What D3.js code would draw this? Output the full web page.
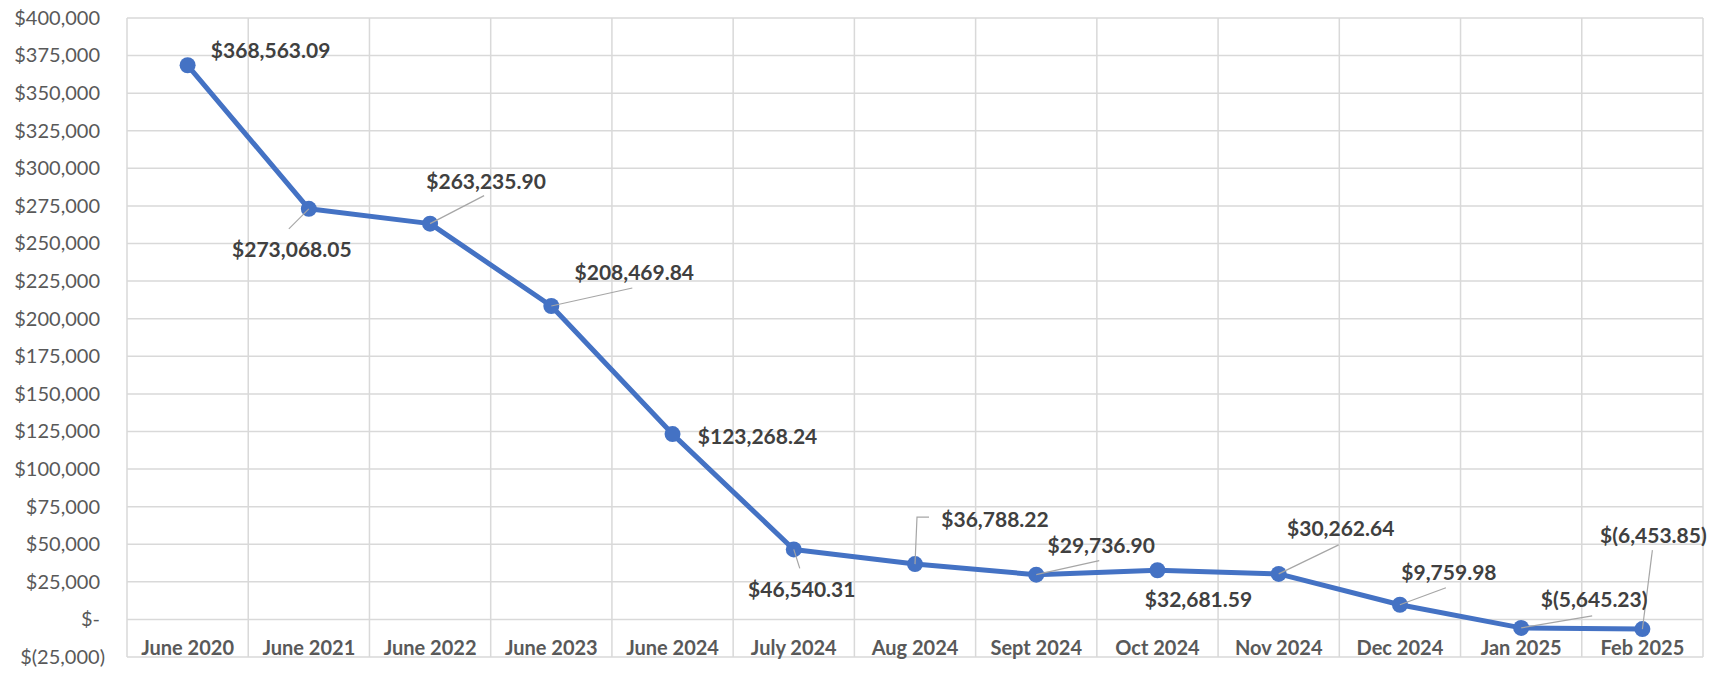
<!DOCTYPE html>
<html lang="en">

<head>
    <meta charset="UTF-8">
    <title>Balance over time</title>
    <script src="https://d3js.org/d3.v7.min.js"></script>
    <style>
        body {
            margin: 0;
            background: #fff;
        }

        svg text {
            font-family: Lato, "Open Sans", sans-serif;
        }

        .grid line {
            stroke: #d9d9d9;
            stroke-width: 1.5;
        }

        .y-axis text {
            fill: #595959;
            font-size: 20px;
        }

        .x-axis text {
            fill: #595959;
            font-size: 20px;
            font-weight: bold;
        }

        .data-label {
            fill: #404040;
            font-size: 21px;
            font-weight: bold;
        }

        .leader {
            fill: none;
            stroke: #a6a6a6;
            stroke-width: 1.2;
        }
    </style>
</head>

<body>
    <svg width="1717" height="673"></svg>

    <script>
        // chart data
        const categories = ["June 2020", "June 2021", "June 2022", "June 2023", "June 2024", "July 2024",
            "Aug 2024", "Sept 2024", "Oct 2024", "Nov 2024", "Dec 2024", "Jan 2025", "Feb 2025"];
        const balances = [368563.09, 273068.05, 263235.90, 208469.84, 123268.24, 46540.31,
            36788.22, 29736.90, 32681.59, 30262.64, 9759.98, -5645.23, -6453.85];
        const yTicks = d3.range(-25000, 400001, 25000);

        // where each data label sits relative to its point, plus the leader line path (if any)
        const labelOffsets = [
            { dx: 83, dy: -16, leader: null },
            { dx: -17, dy: 40, leader: [[-20, 20]] },
            { dx: 56, dy: -43, leader: [[54, -28]] },
            { dx: 83, dy: -34, leader: [[81, -18]] },
            { dx: 85, dy: 1, leader: null },
            { dx: 8, dy: 39, leader: [[6, 19]] },
            { dx: 80, dy: -46, leader: [[2, -47], [14, -47]] },
            { dx: 65, dy: -30, leader: [[63, -14]] },
            { dx: 41, dy: 28, leader: null },
            { dx: 62, dy: -46, leader: [[60, -29]] },
            { dx: 49, dy: -33, leader: [[46, -17]] },
            { dx: 73, dy: -29, leader: [[71, -12]] },
            { dx: 11, dy: -95, leader: [[10, -79]] }
        ];

        const svg = d3.select("svg");
        const plotLeft = 127, plotRight = 1703, plotTop = 18, plotBottom = 657;

        const x = d3.scaleBand().domain(categories).range([plotLeft, plotRight]);
        const y = d3.scaleLinear().domain([-25000, 400000]).range([plotBottom, plotTop]);

        const money = d3.format(",");
        const yFormat = d => d === 0 ? "$-" : d < 0 ? `$(${money(-d)})` : `$${money(d)}`;
        const labelFormat = d => d < 0 ? `$(${d3.format(",.2f")(-d)})` : `$${d3.format(",.2f")(d)}`;

        // gridlines
        const grid = svg.append("g").attr("class", "grid");
        grid.selectAll(".h").data(yTicks).join("line")
            .attr("class", "h")
            .attr("x1", plotLeft).attr("x2", plotRight)
            .attr("y1", d => y(d)).attr("y2", d => y(d));
        const bounds = categories.map(c => x(c)).concat([plotRight]);
        grid.selectAll(".v").data(bounds).join("line")
            .attr("class", "v")
            .attr("x1", d => d).attr("x2", d => d)
            .attr("y1", plotTop).attr("y2", plotBottom);

        // y axis
        const yAxis = svg.append("g").attr("class", "y-axis")
            .attr("transform", `translate(${plotLeft},0)`)
            .call(d3.axisLeft(y).tickValues(yTicks).tickFormat(yFormat).tickSize(0).tickPadding(27));
        yAxis.select(".domain").remove();
        yAxis.selectAll(".tick text").attr("dx", d => d < 0 ? 5 : 0);

        // x axis labels sit inside the plot, under the zero line
        const xAxis = svg.append("g").attr("class", "x-axis")
            .attr("transform", `translate(0,${y(0)})`)
            .call(d3.axisBottom(x).tickSize(0).tickPadding(21));
        xAxis.select(".domain").remove();

        const pts = categories.map((c, i) => ({ cat: c, value: balances[i], off: labelOffsets[i] }));
        const px = d => x(d.cat) + x.bandwidth() / 2;

        // line + markers
        const line = d3.line().x(px).y(d => y(d.value));
        svg.append("path")
            .datum(pts)
            .attr("fill", "none")
            .attr("stroke", "#4472c4")
            .attr("stroke-width", 5)
            .attr("stroke-linejoin", "round")
            .attr("d", line);

        svg.selectAll(".marker").data(pts).join("circle")
            .attr("class", "marker")
            .attr("cx", px)
            .attr("cy", d => y(d.value))
            .attr("r", 8)
            .attr("fill", "#4472c4");

        // leader lines
        svg.selectAll(".leader").data(pts.filter(d => d.off.leader)).join("path")
            .attr("class", "leader")
            .attr("d", d => {
                const x0 = px(d), y0 = y(d.value);
                return d3.line()([[x0, y0], ...d.off.leader.map(p => [x0 + p[0], y0 + p[1]])]);
            });

        // data labels
        svg.selectAll(".data-label").data(pts).join("text")
            .attr("class", "data-label")
            .attr("x", d => px(d) + d.off.dx)
            .attr("y", d => y(d.value) + d.off.dy)
            .attr("text-anchor", "middle")
            .attr("dominant-baseline", "central")
            .text(d => labelFormat(d.value));
    </script>
</body>

</html>
